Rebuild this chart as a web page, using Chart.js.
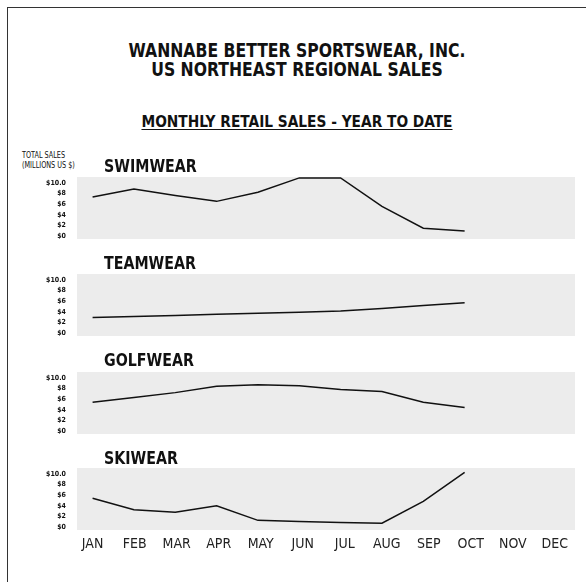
<!DOCTYPE html>
<html>
<head>
<meta charset="utf-8">
<script src="https://cdn.jsdelivr.net/npm/chart.js@4/dist/chart.umd.min.js"></script>
<style>
  html, body { margin: 0; padding: 0; background: #fff; overflow: hidden; }
  body { width: 586px; height: 582px; position: relative; font-family: "Liberation Sans Narrow", "Arial Narrow", "DejaVu Sans Condensed", sans-serif; color: #111; }
  .frame { position: absolute; left: 7px; top: 7px; width: 620px; height: 620px; border: 1.5px solid #333; }
  .title { position: absolute; left: 0; width: 594px; text-align: center; font-weight: bold; transform-origin: 297px 0; }
  .t1 { top: 40.5px; font-size: 19px; line-height: 19px; transform: scaleX(0.915); }
  .t2 { top: 113.5px; font-size: 16px; line-height: 16px; text-decoration: underline; text-underline-offset: 2px; transform: scaleX(0.955); }
  .units { position: absolute; left: 21.5px; top: 151px; font-size: 8px; line-height: 9.5px; transform: scaleX(0.9); transform-origin: 0 0; }
  .panel-title { position: absolute; left: 103.5px; font-size: 17px; line-height: 17px; font-weight: bold; z-index: 2; transform: scaleX(0.93); transform-origin: 0 0; }
  canvas { position: absolute; left: 0; }
</style>
</head>
<body>
<div class="frame"></div>
<div class="title t1">WANNABE BETTER SPORTSWEAR, INC.<br>US NORTHEAST REGIONAL SALES</div>
<div class="title t2">MONTHLY RETAIL SALES - YEAR TO DATE</div>
<div class="units">TOTAL SALES<br>(MILLIONS US $)</div>

<div class="panel-title" style="top:157.5px">SWIMWEAR</div>
<div class="panel-title" style="top:255px">TEAMWEAR</div>
<div class="panel-title" style="top:351.5px">GOLFWEAR</div>
<div class="panel-title" style="top:450px">SKIWEAR</div>

<canvas id="swim" width="575" height="102" style="top:157px"></canvas>
<canvas id="team" width="575" height="102" style="top:254px"></canvas>
<canvas id="golf" width="575" height="102" style="top:352px"></canvas>
<canvas id="ski" width="575" height="122" style="top:448px"></canvas>

<script>
const months = ['JAN', 'FEB', 'MAR', 'APR', 'MAY', 'JUN', 'JUL', 'AUG', 'SEP', 'OCT', 'NOV', 'DEC'];
const swimwear = [7.3, 8.8, 7.6, 6.5, 8.2, 10.9, 10.9, 5.55, 1.45, 0.95];
const teamwear = [2.9, 3.1, 3.3, 3.5, 3.7, 3.9, 4.15, 4.6, 5.15, 5.7];
const golfwear = [5.4, 6.3, 7.2, 8.4, 8.7, 8.5, 7.8, 7.4, 5.4, 4.4];
const skiwear = [5.4, 3.25, 2.75, 4.0, 1.25, 1.05, 0.85, 0.7, 4.8, 10.25];
const yTickValues = [0, 2, 4, 6, 8, 10];
const yTickLabels = ['$0', '$2', '$4', '$6', '$8', '$10.0'];

const FONT = '"Liberation Sans Narrow", "Arial Narrow", "DejaVu Sans Condensed", sans-serif';

// grey plot background
const panelFill = {
  id: 'panelFill',
  beforeDraw(chart) {
    const { ctx, chartArea: a } = chart;
    ctx.save();
    ctx.fillStyle = '#ececec';
    ctx.fillRect(a.left, a.top, a.width, a.height);
    ctx.restore();
  }
};

function makePanel(id, values, showMonths) {
  const canvas = document.getElementById(id);
  if (!canvas) return;

  const scales = {
    x: { type: 'linear', min: -0.377, max: 11.67, display: false },
    y: {
      type: 'linear',
      min: -0.56,
      max: 11.07,
      grid: { display: false, drawTicks: false },
      border: { display: false },
      afterBuildTicks: (scale) => {
        scale.ticks = yTickValues.map((v) => ({ value: v }));
      },
      afterFit: (scale) => { scale.width = 77; },
      ticks: {
        padding: 11,
        color: '#111',
        font: { family: FONT, size: 7, weight: 'bold' },
        callback: (v) => yTickLabels[yTickValues.indexOf(v)]
      }
    }
  };

  if (showMonths) {
    scales.xMonths = {
      axis: 'x',
      type: 'linear',
      position: 'bottom',
      min: -0.371,
      max: 11.48,
      grid: { display: false, drawTicks: false },
      border: { display: false },
      afterBuildTicks: (scale) => {
        scale.ticks = months.map((m, i) => ({ value: i }));
      },
      afterFit: (scale) => { scale.height = 30; },
      ticks: {
        padding: 6,
        color: '#222',
        maxRotation: 0,
        autoSkip: false,
        font: { family: FONT, size: 14 },
        callback: (v) => months[v]
      }
    };
  }

  new Chart(canvas.getContext('2d'), {
    type: 'line',
    data: {
      datasets: [{
        data: values.map((v, i) => ({ x: i, y: v })),
        borderColor: '#111',
        borderWidth: 1.5,
        pointRadius: 0,
        tension: 0,
        fill: false
      }]
    },
    options: {
      responsive: false,
      animation: false,
      layout: { padding: { top: 20, bottom: showMonths ? 10 : 20, left: 0, right: 0 } },
      plugins: { legend: { display: false }, tooltip: { enabled: false }, title: { display: false } },
      scales
    },
    plugins: [panelFill]
  });
}

makePanel('swim', swimwear, false);
makePanel('team', teamwear, false);
makePanel('golf', golfwear, false);
makePanel('ski', skiwear, true);
</script>
</body>
</html>
